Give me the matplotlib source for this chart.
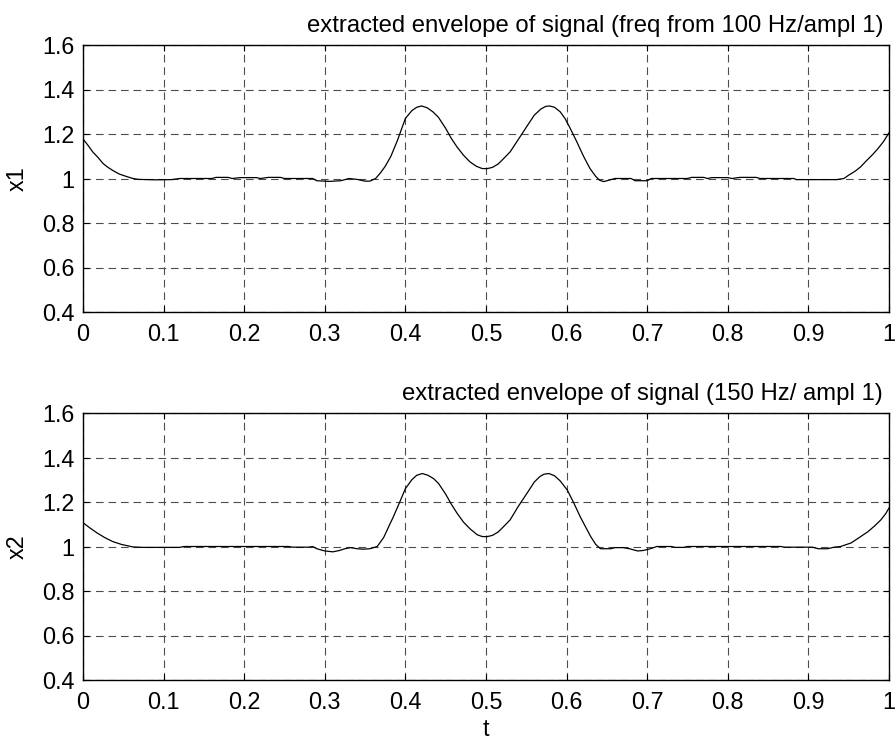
import matplotlib
matplotlib.use("Agg")
import matplotlib.pyplot as plt

plt.rcParams['font.family'] = ['Liberation Sans', 'DejaVu Sans']
plt.rcParams['lines.scale_dashes'] = False

t1 = [0.000, 0.006, 0.012, 0.019, 0.025, 0.031, 0.037, 0.045, 0.054, 0.062,
      0.069, 0.090, 0.110, 0.120, 0.160, 0.165, 0.180, 0.185, 0.195, 0.215,
      0.220, 0.230, 0.245, 0.250, 0.285, 0.290, 0.305, 0.320, 0.330, 0.340,
      0.350, 0.356, 0.363, 0.369, 0.375, 0.382, 0.390, 0.400, 0.408, 0.414,
      0.420, 0.427, 0.434, 0.441, 0.450, 0.457, 0.464, 0.472, 0.480, 0.488,
      0.495, 0.501, 0.508, 0.515, 0.522, 0.530, 0.540, 0.551, 0.560, 0.568,
      0.574, 0.579, 0.585, 0.592, 0.598, 0.603, 0.612, 0.621, 0.629, 0.636,
      0.641, 0.646, 0.652, 0.660, 0.680, 0.685, 0.700, 0.705, 0.750, 0.755,
      0.770, 0.775, 0.780, 0.800, 0.805, 0.815, 0.835, 0.840, 0.882, 0.885,
      0.935, 0.944, 0.950, 0.958, 0.965, 0.972, 0.979, 0.986, 0.993, 1.000]
x1 = [1.178, 1.150, 1.120, 1.093, 1.067, 1.050, 1.036, 1.020, 1.009, 1.000,
      0.996, 0.994, 0.995, 1.000, 1.000, 1.005, 1.005, 1.000, 1.004, 1.004,
      1.000, 1.005, 1.005, 1.000, 1.000, 0.990, 0.987, 0.990, 1.000, 0.996,
      0.988, 0.988, 1.000, 1.025, 1.055, 1.100, 1.170, 1.270, 1.305, 1.320,
      1.326, 1.318, 1.300, 1.275, 1.225, 1.180, 1.142, 1.105, 1.075, 1.055,
      1.045, 1.044, 1.050, 1.065, 1.090, 1.120, 1.175, 1.236, 1.285, 1.312,
      1.324, 1.326, 1.320, 1.300, 1.270, 1.236, 1.170, 1.100, 1.045, 1.010,
      0.992, 0.986, 0.992, 1.000, 1.000, 0.990, 0.990, 1.000, 1.000, 1.005,
      1.005, 1.000, 1.004, 1.004, 1.000, 1.005, 1.005, 1.000, 1.000, 0.995,
      0.995, 1.000, 1.015, 1.033, 1.053, 1.080, 1.105, 1.133, 1.165, 1.205]

t2 = [0.000, 0.008, 0.017, 0.027, 0.037, 0.048, 0.062, 0.075, 0.120, 0.125,
      0.255, 0.260, 0.280, 0.285, 0.290, 0.300, 0.310, 0.318, 0.325, 0.332,
      0.340, 0.348, 0.356, 0.365, 0.373, 0.380, 0.385, 0.393, 0.400, 0.408,
      0.414, 0.421, 0.428, 0.435, 0.441, 0.450, 0.457, 0.464, 0.472, 0.480,
      0.489, 0.495, 0.501, 0.508, 0.515, 0.522, 0.530, 0.540, 0.551, 0.560,
      0.567, 0.572, 0.578, 0.585, 0.592, 0.601, 0.609, 0.617, 0.624, 0.630,
      0.636, 0.642, 0.655, 0.660, 0.670, 0.678, 0.688, 0.695, 0.704, 0.712,
      0.730, 0.735, 0.745, 0.750, 0.866, 0.870, 0.905, 0.912, 0.924, 0.932,
      0.940, 0.953, 0.963, 0.974, 0.982, 0.990, 0.996, 1.000]
x2 = [1.107, 1.085, 1.062, 1.040, 1.022, 1.009, 0.998, 0.996, 0.996, 1.000,
      1.000, 0.997, 0.997, 1.000, 0.990, 0.980, 0.976, 0.982, 0.990, 0.995,
      0.990, 0.988, 0.990, 1.000, 1.040, 1.095, 1.133, 1.200, 1.260, 1.300,
      1.320, 1.328, 1.320, 1.305, 1.284, 1.235, 1.190, 1.150, 1.110, 1.080,
      1.053, 1.045, 1.044, 1.050, 1.065, 1.090, 1.120, 1.180, 1.240, 1.290,
      1.315, 1.325, 1.328, 1.318, 1.295, 1.253, 1.195, 1.133, 1.085, 1.044,
      1.010, 0.990, 0.990, 0.995, 0.995, 0.990, 0.980, 0.982, 0.990, 1.000,
      1.000, 0.996, 0.996, 1.000, 1.000, 0.997, 0.997, 0.990, 0.990, 0.997,
      1.000, 1.016, 1.040, 1.067, 1.092, 1.120, 1.148, 1.173]

xticks = [0, 0.1, 0.2, 0.3, 0.4, 0.5, 0.6, 0.7, 0.8, 0.9, 1]
xticklabels = ['0', '0.1', '0.2', '0.3', '0.4', '0.5', '0.6', '0.7', '0.8', '0.9', '1']
yticks = [0.4, 0.6, 0.8, 1.0, 1.2, 1.4, 1.6]
yticklabels = ['0.4', '0.6', '0.8', '1', '1.2', '1.4', '1.6']

titles = ['extracted envelope of signal (freq from 100 Hz/ampl 1)',
          'extracted envelope of signal (150 Hz/ ampl 1)']
ylabels = ['x1', 'x2']

FS = 16.8
fig = plt.figure(figsize=(8.96, 7.4), dpi=100)
W, H = 896, 740
rects = [(83, 45, 889, 312), (83, 413, 889, 680)]
series = [(t1, x1), (t2, x2)]

for i, (l, tp, r, b) in enumerate(rects):
    ax = fig.add_axes([l / W, 1 - b / H, (r - l) / W, (b - tp) / H])
    tt, xx = series[i]
    ax.plot(tt, xx, color='black', lw=0.9)
    ax.set_xlim(0, 1)
    ax.set_ylim(0.4, 1.6)
    ax.set_xticks(xticks)
    ax.set_xticklabels(xticklabels)
    ax.set_yticks(yticks)
    ax.set_yticklabels(yticklabels)
    ax.grid(True, color='0.3', lw=0.8, linestyle=(0, (5.5, 3.5)))
    ax.tick_params(direction='in', length=4, width=0.8, labelsize=FS,
                   top=True, right=True, color='black')
    ax.tick_params(axis='x', pad=8)
    ax.tick_params(axis='y', pad=6)
    for sp in ax.spines.values():
        sp.set_linewidth(1.0)
        sp.set_color('black')
    ax.set_ylabel(ylabels[i], fontsize=FS, labelpad=10)
    ax.text(1 - 6 / (r - l), 1 + 13 / (b - tp), titles[i], transform=ax.transAxes,
            ha='right', va='baseline', fontsize=17.2)
    if i == 1:
        ax.set_xlabel('t', fontsize=FS, labelpad=3)

fig.savefig('out.png', dpi=100)
